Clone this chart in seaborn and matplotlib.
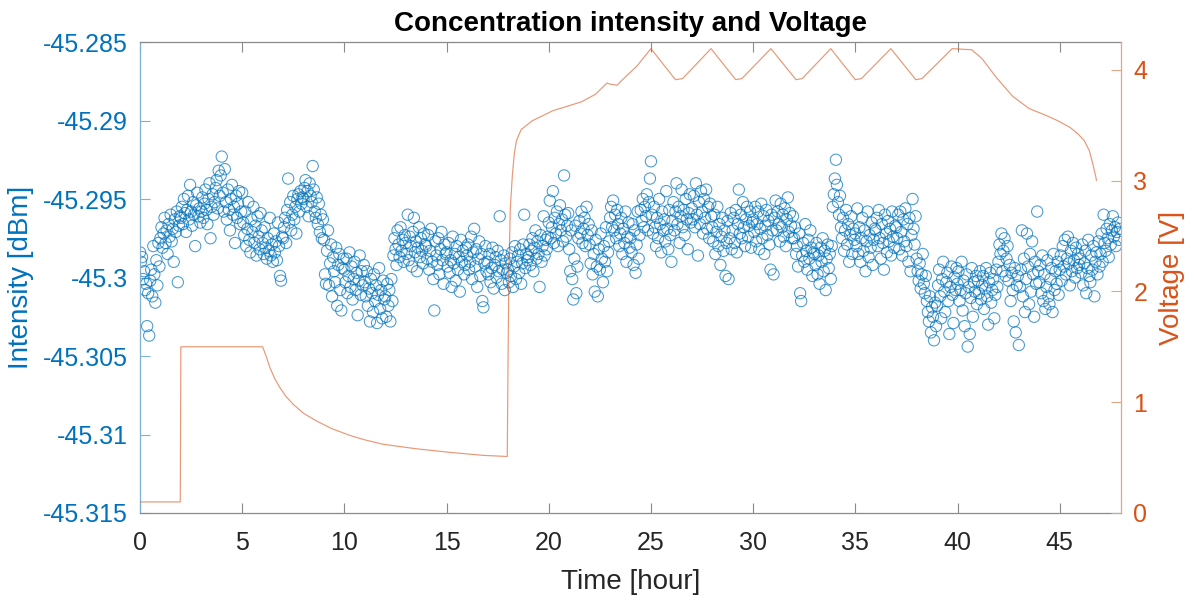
import numpy as np
import pandas as pd
import matplotlib
matplotlib.use("Agg")
import matplotlib.pyplot as plt
import seaborn as sns

# ---------------- data ----------------
# intensity samples, one row per hour (evenly sampled inside each hour)
intensity_by_hour = [
    [-45.2984, -45.2990, -45.2987, -45.3001, -45.2996, -45.3008, -45.3004, -45.3031, -45.3010, -45.3037, -45.3002, -45.2995, -45.3012, -45.2980, -45.2998, -45.3016, -45.2989, -45.3005, -45.2978, -45.2993],
    [-45.2975, -45.2968, -45.2981, -45.2972, -45.2962, -45.2978, -45.2970, -45.2985, -45.2966, -45.2974, -45.2960, -45.2977, -45.2969, -45.2990, -45.2963, -45.2971, -45.2958, -45.3003, -45.2967, -45.2961],
    [-45.2962, -45.2955, -45.2966, -45.2950, -45.2959, -45.2971, -45.2957, -45.2948, -45.2963, -45.2941, -45.2958, -45.2967, -45.2952, -45.2960, -45.2980, -45.2954, -45.2946, -45.2961, -45.2956, -45.2965],
    [-45.2958, -45.2949, -45.2962, -45.2953, -45.2944, -45.2957, -45.2966, -45.2950, -45.2940, -45.2975, -45.2955, -45.2947, -45.2960, -45.2952, -45.2943, -45.2938, -45.2956, -45.2932, -45.2948, -45.2935],
    [-45.2923, -45.2946, -45.2958, -45.2931, -45.2952, -45.2963, -45.2944, -45.2957, -45.2970, -45.2950, -45.2941, -45.2960, -45.2955, -45.2978, -45.2948, -45.2962, -45.2953, -45.2945, -45.2966, -45.2958],
    [-45.2946, -45.2965, -45.2973, -45.2958, -45.2980, -45.2969, -45.2952, -45.2976, -45.2984, -45.2963, -45.2971, -45.2955, -45.2978, -45.2967, -45.2986, -45.2961, -45.2974, -45.2982, -45.2959, -45.2970],
    [-45.2978, -45.2985, -45.2968, -45.2981, -45.2988, -45.2975, -45.2983, -45.2962, -45.2986, -45.2979, -45.2990, -45.2972, -45.2984, -45.2977, -45.2989, -45.2965, -45.2980, -45.2999, -45.3002, -45.2974],
    [-45.2975, -45.2968, -45.2962, -45.2978, -45.2957, -45.2937, -45.2965, -45.2952, -45.2970, -45.2960, -45.2948, -45.2963, -45.2955, -45.2972, -45.2950, -45.2947, -45.2958, -45.2945, -45.2953, -45.2949],
    [-45.2950, -45.2943, -45.2938, -45.2955, -45.2945, -45.2961, -45.2940, -45.2948, -45.2952, -45.2929, -45.2944, -45.2958, -45.2962, -45.2949, -45.2966, -45.2953, -45.2971, -45.2960, -45.2975, -45.2963],
    [-45.2976, -45.2998, -45.3004, -45.2983, -45.2970, -45.3005, -45.2991, -45.2979, -45.3012, -45.2987, -45.2996, -45.3003, -45.2981, -45.3018, -45.2992, -45.2985, -45.3008, -45.3021, -45.2994, -45.2988],
    [-45.2995, -45.3003, -45.2988, -45.3010, -45.2999, -45.2984, -45.3006, -45.2993, -45.3014, -45.3001, -45.2990, -45.3008, -45.2997, -45.3024, -45.3002, -45.2986, -45.3011, -45.2996, -45.3005, -45.2992],
    [-45.3003, -45.3012, -45.2996, -45.3018, -45.3007, -45.3028, -45.3001, -45.3010, -45.3022, -45.2998, -45.3015, -45.3005, -45.3029, -45.3011, -45.2994, -45.3020, -45.3008, -45.3026, -45.3002, -45.3014],
    [-45.3012, -45.3025, -45.3004, -45.3018, -45.3008, -45.3028, -45.3001, -45.3015, -45.2986, -45.2975, -45.2982, -45.2992, -45.2970, -45.2979, -45.2987, -45.2968, -45.2983, -45.2976, -45.2990, -45.2973],
    [-45.2978, -45.2985, -45.2960, -45.2989, -45.2974, -45.2980, -45.2993, -45.2971, -45.2962, -45.2984, -45.2977, -45.2996, -45.2981, -45.2968, -45.2987, -45.2975, -45.2983, -45.2991, -45.2972, -45.2979],
    [-45.2980, -45.2988, -45.2973, -45.2995, -45.2983, -45.2969, -45.2990, -45.3001, -45.3021, -45.2977, -45.2986, -45.2992, -45.2975, -45.2998, -45.2982, -45.2971, -45.2989, -45.3004, -45.2979, -45.2985],
    [-45.2984, -45.2993, -45.2978, -45.2997, -45.2989, -45.3006, -45.2974, -45.2991, -45.2985, -45.3002, -45.2980, -45.2995, -45.2987, -45.3009, -45.2976, -45.2990, -45.2983, -45.2998, -45.2992, -45.2981],
    [-45.2986, -45.2979, -45.2995, -45.2990, -45.2974, -45.3001, -45.2984, -45.2969, -45.2993, -45.2982, -45.3006, -45.2988, -45.2977, -45.2999, -45.2985, -45.3015, -45.3019, -45.2991, -45.2980, -45.2996],
    [-45.2990, -45.2998, -45.2985, -45.3003, -45.2994, -45.2981, -45.3007, -45.2992, -45.2987, -45.3000, -45.2983, -45.2996, -45.2961, -45.2989, -45.3004, -45.2995, -45.2986, -45.3008, -45.2991, -45.2997],
    [-45.2995, -45.3003, -45.2988, -45.2999, -45.2984, -45.3006, -45.2993, -45.2980, -45.3001, -45.2990, -45.2986, -45.2997, -45.2982, -45.3004, -45.2991, -45.2979, -45.2960, -45.2994, -45.2985, -45.2989],
    [-45.2987, -45.2979, -45.2992, -45.2983, -45.2975, -45.2996, -45.2981, -45.2970, -45.2988, -45.2977, -45.2985, -45.3006, -45.2973, -45.2990, -45.2980, -45.2961, -45.2986, -45.2976, -45.2982, -45.2974],
    [-45.2965, -45.2951, -45.2975, -45.2968, -45.2945, -45.2978, -45.2962, -45.2972, -45.2958, -45.2980, -45.2966, -45.2954, -45.2970, -45.2963, -45.2977, -45.2935, -45.2960, -45.2974, -45.2967, -45.2959],
    [-45.2982, -45.2996, -45.2970, -45.3001, -45.3014, -45.2988, -45.2967, -45.3010, -45.2993, -45.2975, -45.2964, -45.2972, -45.2958, -45.2978, -45.2969, -45.2962, -45.2980, -45.2955, -45.2973, -45.2966],
    [-45.2979, -45.2991, -45.2970, -45.2998, -45.2985, -45.3009, -45.2976, -45.2993, -45.3012, -45.2982, -45.2995, -45.2972, -45.2988, -45.3003, -45.2980, -45.2990, -45.2968, -45.2996, -45.2984, -45.2977],
    [-45.2962, -45.2955, -45.2968, -45.2951, -45.2970, -45.2960, -45.2975, -45.2957, -45.2966, -45.2980, -45.2972, -45.2962, -45.2985, -45.2969, -45.2978, -45.2958, -45.2990, -45.2974, -45.2965, -45.2981],
    [-45.2975, -45.2984, -45.2966, -45.2992, -45.2970, -45.2997, -45.2979, -45.2958, -45.2988, -45.2973, -45.2957, -45.2964, -45.2950, -45.2968, -45.2955, -45.2961, -45.2947, -45.2970, -45.2952, -45.2937],
    [-45.2926, -45.2960, -45.2972, -45.2955, -45.2968, -45.2980, -45.2962, -45.2975, -45.2950, -45.2966, -45.2984, -45.2958, -45.2970, -45.2963, -45.2977, -45.2945, -45.2969, -45.2982, -45.2957, -45.2973],
    [-45.2990, -45.2964, -45.2952, -45.2970, -45.2958, -45.2940, -45.2966, -45.2955, -45.2978, -45.2961, -45.2944, -45.2968, -45.2957, -45.2973, -45.2950, -45.2963, -45.2982, -45.2959, -45.2947, -45.2965],
    [-45.2956, -45.2963, -45.2948, -45.2968, -45.2940, -45.2960, -45.2986, -45.2952, -45.2966, -45.2945, -45.2958, -45.2972, -45.2950, -45.2962, -45.2944, -45.2969, -45.2955, -45.2975, -45.2953, -45.2961],
    [-45.2968, -45.2977, -45.2960, -45.2985, -45.2971, -45.2955, -45.2980, -45.2966, -45.2992, -45.2974, -45.2962, -45.2983, -45.2970, -45.2999, -45.2978, -45.2964, -45.3001, -45.2975, -45.2959, -45.2982],
    [-45.2970, -45.2962, -45.2978, -45.2957, -45.2984, -45.2966, -45.2944, -45.2972, -45.2960, -45.2975, -45.2952, -45.2968, -45.2980, -45.2963, -45.2955, -45.2974, -45.2967, -45.2958, -45.2981, -45.2965],
    [-45.2963, -45.2971, -45.2955, -45.2977, -45.2966, -45.2958, -45.2982, -45.2969, -45.2953, -45.2975, -45.2961, -45.2985, -45.2967, -45.2957, -45.2973, -45.2964, -45.2979, -45.2995, -45.2960, -45.2970],
    [-45.2998, -45.2962, -45.2951, -45.2970, -45.2958, -45.2966, -45.2977, -45.2953, -45.2968, -45.2960, -45.2974, -45.2956, -45.2980, -45.2963, -45.2949, -45.2971, -45.2959, -45.2967, -45.2975, -45.2961],
    [-45.2975, -45.2968, -45.2985, -45.2980, -45.2993, -45.2972, -45.3010, -45.3015, -45.2986, -45.2978, -45.2990, -45.2966, -45.2983, -45.2995, -45.2976, -45.2988, -45.2970, -45.2981, -45.2999, -45.2984],
    [-45.2985, -45.2992, -45.2978, -45.2998, -45.2986, -45.3004, -45.2981, -45.2990, -45.2975, -45.2996, -45.2983, -45.3008, -45.2988, -45.2979, -45.2994, -45.2985, -45.3001, -45.2980, -45.2955, -45.2947],
    [-45.2937, -45.2925, -45.2941, -45.2952, -45.2960, -45.2948, -45.2968, -45.2975, -45.2962, -45.2983, -45.2970, -45.2957, -45.2979, -45.2966, -45.2990, -45.2973, -45.2961, -45.2985, -45.2969, -45.2976],
    [-45.2972, -45.2980, -45.2956, -45.2985, -45.2968, -45.2990, -45.2975, -45.2962, -45.2983, -45.2970, -45.2996, -45.2977, -45.2958, -45.2987, -45.2973, -45.2981, -45.2965, -45.2992, -45.2976, -45.2969],
    [-45.2970, -45.2962, -45.2980, -45.2957, -45.2975, -45.2988, -45.2966, -45.2978, -45.2995, -45.2960, -45.2972, -45.2984, -45.2964, -45.2977, -45.2969, -45.2986, -45.2958, -45.2974, -45.2981, -45.2967],
    [-45.2968, -45.2975, -45.2960, -45.2982, -45.2958, -45.2971, -45.2986, -45.2963, -45.2977, -45.2956, -45.2980, -45.2966, -45.2990, -45.2962, -45.2996, -45.2973, -45.2950, -45.2969, -45.2979, -45.2961],
    [-45.2988, -45.2996, -45.3002, -45.2991, -45.3007, -45.2998, -45.2985, -45.3004, -45.3010, -45.2999, -45.3015, -45.3022, -45.3028, -45.3012, -45.3035, -45.3019, -45.3025, -45.3040, -45.3016, -45.3031],
    [-45.3018, -45.3005, -45.2995, -45.3012, -45.3026, -45.3001, -45.2990, -45.3009, -45.3022, -45.3003, -45.2997, -45.3015, -45.3036, -45.3006, -45.2993, -45.3011, -45.3029, -45.3000, -45.3008, -45.2994],
    [-45.3004, -45.2996, -45.3015, -45.3008, -45.2990, -45.3021, -45.3002, -45.3031, -45.3010, -45.2998, -45.3044, -45.3006, -45.3036, -45.3013, -45.2994, -45.3025, -45.3003, -45.3009, -45.2999, -45.3017],
    [-45.3002, -45.3010, -45.2996, -45.3014, -45.3005, -45.2999, -45.3020, -45.3007, -45.2994, -45.3012, -45.3030, -45.3003, -45.2997, -45.3016, -45.3008, -45.3001, -45.3026, -45.3011, -45.2995, -45.3006],
    [-45.2990, -45.2979, -45.2985, -45.2972, -45.2996, -45.2983, -45.2975, -45.2999, -45.2988, -45.2980, -45.3002, -45.2992, -45.3015, -45.2997, -45.3008, -45.3028, -45.2994, -45.3035, -45.3005, -45.2999],
    [-45.3043, -45.3006, -45.2995, -45.2970, -45.3012, -45.2988, -45.3022, -45.3001, -45.2972, -45.2993, -45.3017, -45.2985, -45.3009, -45.2977, -45.2998, -45.3025, -45.2990, -45.3004, -45.2958, -45.2996],
    [-45.3003, -45.2992, -45.3010, -45.2986, -45.3015, -45.2998, -45.3020, -45.3006, -45.2989, -45.3012, -45.3017, -45.3001, -45.2994, -45.3022, -45.2985, -45.3008, -45.2996, -45.3004, -45.2990, -45.3011],
    [-45.2995, -45.2986, -45.3002, -45.2980, -45.2993, -45.2976, -45.2998, -45.2988, -45.2974, -45.2991, -45.3005, -45.2983, -45.2996, -45.2978, -45.2989, -45.3000, -45.2981, -45.2994, -45.2985, -45.2992],
    [-45.2988, -45.2997, -45.2979, -45.3005, -45.2991, -45.2983, -45.3010, -45.2994, -45.2976, -45.2999, -45.3003, -45.2986, -45.2995, -45.2980, -45.3012, -45.2990, -45.2984, -45.2998, -45.2977, -45.2993],
    [-45.2985, -45.2972, -45.2990, -45.2960, -45.2978, -45.2983, -45.2969, -45.2975, -45.2987, -45.2966, -45.2979, -45.2970, -45.2961, -45.2974, -45.2968, -45.2980, -45.2971, -45.2965, -45.2976, -45.2969],
]

# voltage trace (breakpoints of the line, hours / volts)
volt_time_h = [0.0, 1.97, 2.0, 6.0, 6.2, 6.36, 6.6, 6.85, 7.15, 7.5, 8.0, 8.64, 9.4, 10.27, 11.0,
               11.9, 13.5, 15.17, 16.8, 17.97, 18.0, 18.05, 18.12, 18.22, 18.32, 18.42, 18.65, 19.2,
               20.2, 21.6, 22.3, 22.85, 23.0, 23.35, 23.55, 24.3, 25.0, 26.2, 26.55, 27.94, 29.15,
               29.45, 30.87, 32.1, 32.4, 33.8, 35.0, 35.3, 36.74, 37.96, 38.26, 39.74, 40.7, 41.2,
               41.9, 42.7, 43.5, 44.3, 44.9, 45.5, 45.9, 46.2, 46.45, 46.62, 46.75, 46.8]
voltage_v = [0.10, 0.10, 1.50, 1.50, 1.40, 1.31, 1.21, 1.13, 1.05, 0.98, 0.90, 0.83, 0.76, 0.70, 0.66,
             0.62, 0.58, 0.547, 0.52, 0.51, 1.20, 2.20, 2.75, 3.05, 3.25, 3.36, 3.46, 3.54,
             3.63, 3.71, 3.78, 3.88, 3.87, 3.86, 3.90, 4.03, 4.19, 3.91, 3.92, 4.19, 3.91,
             3.92, 4.19, 3.91, 3.92, 4.19, 3.91, 3.92, 4.19, 3.91, 3.92, 4.19, 4.18, 4.10,
             3.93, 3.76, 3.65, 3.59, 3.54, 3.48, 3.42, 3.36, 3.27, 3.15, 3.05, 3.00]

x_ticks = [0, 5, 10, 15, 20, 25, 30, 35, 40, 45]
left_ticks = [-45.315, -45.31, -45.305, -45.3, -45.295, -45.29, -45.285]
left_tick_labels = ["-45.315", "-45.31", "-45.305", "-45.3", "-45.295", "-45.29", "-45.285"]
right_ticks = [0, 1, 2, 3, 4]

# ---------------- frames ----------------
rows_t, rows_i = [], []
for hour, row in enumerate(intensity_by_hour):
    n = len(row)
    for k, val in enumerate(row):
        rows_t.append(hour + k / n)
        rows_i.append(val)
idf = pd.DataFrame({"time": rows_t, "intensity": rows_i})
vdf = pd.DataFrame({"time": volt_time_h, "voltage": voltage_v})

# ---------------- style ----------------
sns.set_theme(style="white")
plt.rcParams["font.family"] = ["Liberation Sans", "DejaVu Sans"]

BLUE = "#0072BD"
ORANGE = "#D95319"
GRAY = "#262626"

fig = plt.figure(figsize=(11.94, 6.01), dpi=100)
ax = fig.add_axes([140 / 1194, 1 - 513 / 601, (1121 - 140) / 1194, (513 - 42) / 601])
ax2 = ax.twinx()

sns.scatterplot(data=idf, x="time", y="intensity", ax=ax, s=66, marker="o",
                linewidth=0.75, legend=False)
coll = ax.collections[0]
coll.set_facecolor("none")
coll.set_edgecolor(BLUE)
coll.set_alpha(0.72)

sns.lineplot(data=vdf, x="time", y="voltage", ax=ax2, color=ORANGE, linewidth=0.85,
             sort=False, estimator=None, alpha=0.6, legend=False)

ax.set_xlim(0, 48)
ax.set_ylim(-45.315, -45.285)
ax2.set_ylim(0, 4.25)

ax.set_xticks(x_ticks)
ax.set_xticklabels([str(v) for v in x_ticks])
ax.set_yticks(left_ticks)
ax.set_yticklabels(left_tick_labels)
ax2.set_yticks(right_ticks)
ax2.set_yticklabels([str(v) for v in right_ticks])

ax.tick_params(axis="x", which="both", direction="in", top=True, bottom=True, length=7,
               width=0.8, color="#8a8a8a", labelcolor=GRAY, labelsize=18, pad=13)
ax.tick_params(axis="y", direction="in", left=True, right=False, length=7, width=0.8,
               color="#7fb0d6", labelcolor=BLUE, labelsize=18, pad=9)
ax2.tick_params(axis="y", direction="in", right=True, length=7, width=0.8,
                color="#e3a585", labelcolor=ORANGE, labelsize=18, pad=9)

for side in ["top", "bottom"]:
    ax.spines[side].set_color("#8a8a8a")
    ax.spines[side].set_linewidth(0.9)
ax.spines["left"].set_color("#7fb0d6")
ax.spines["left"].set_linewidth(0.9)
ax.spines["right"].set_visible(False)
for side in ["left", "top", "bottom"]:
    ax2.spines[side].set_visible(False)
ax2.spines["right"].set_color("#e3a585")
ax2.spines["right"].set_linewidth(0.9)

ax.set_xlabel("Time [hour]", fontsize=20, color=GRAY, labelpad=10)
ax.set_ylabel("Intensity [dBm]", fontsize=20, color=BLUE, labelpad=6)
ax2.set_ylabel("Voltage [V]", fontsize=20, color=ORANGE, labelpad=8)
ax.set_title("Concentration intensity and Voltage", fontsize=20, fontweight="bold",
             color="black", pad=8)

fig.savefig("out.png", dpi=100, facecolor="white")
